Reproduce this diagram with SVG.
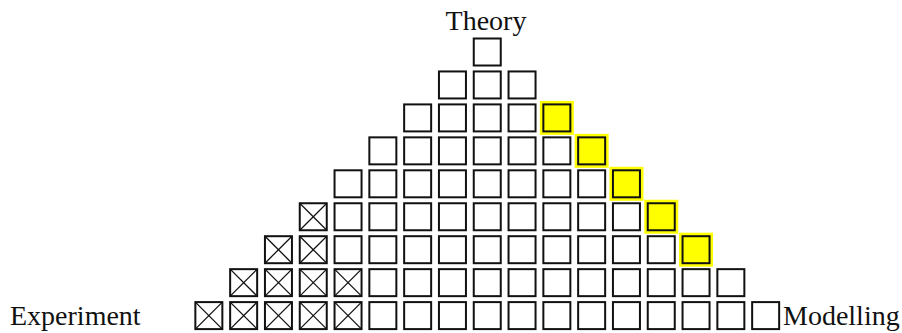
<svg xmlns="http://www.w3.org/2000/svg" xmlns:xlink="http://www.w3.org/1999/xlink" width="902" height="333" viewBox="0 0 902 333">
<style>
.sq{fill:#fff;stroke:#111;stroke-width:2}
.hl{fill:#ffff00;stroke:#111;stroke-width:2}
.glow{fill:#ffff00}
.cr{stroke:#111;stroke-width:1.3}
.lbl{font-family:"Liberation Serif","Times New Roman",serif;font-size:28px;fill:#111}
</style>
<defs>
<rect id="sq" class="sq" width="27" height="27"/>
<g id="xs"><rect class="sq" width="27" height="27"/><line class="cr" x1="0" y1="0" x2="27" y2="27"/><line class="cr" x1="27" y1="0" x2="0" y2="27"/></g>
<g id="ys"><rect class="glow" x="-3.5" y="-3.5" width="34" height="34"/><rect class="hl" width="27" height="27"/></g>
</defs>
<g id="labels">
<text class="lbl" x="486" y="30" text-anchor="middle">Theory</text>
<text class="lbl" x="10" y="325">Experiment</text>
<text class="lbl" x="783" y="325">Modelling</text>
</g>
<g id="row0" transform="translate(0,38.5)">
<use href="#sq" x="473.75"/>
</g>
<g id="row1" transform="translate(0,71.45)">
<use href="#sq" x="438.95"/><use href="#sq" x="473.75"/><use href="#sq" x="508.55"/>
</g>
<g id="row2" transform="translate(0,104.4)">
<use href="#sq" x="404.15"/><use href="#sq" x="438.95"/><use href="#sq" x="473.75"/><use href="#sq" x="508.55"/><use href="#ys" x="543.35"/>
</g>
<g id="row3" transform="translate(0,137.35)">
<use href="#sq" x="369.35"/><use href="#sq" x="404.15"/><use href="#sq" x="438.95"/><use href="#sq" x="473.75"/><use href="#sq" x="508.55"/><use href="#sq" x="543.35"/><use href="#ys" x="578.15"/>
</g>
<g id="row4" transform="translate(0,170.3)">
<use href="#sq" x="334.55"/><use href="#sq" x="369.35"/><use href="#sq" x="404.15"/><use href="#sq" x="438.95"/><use href="#sq" x="473.75"/><use href="#sq" x="508.55"/><use href="#sq" x="543.35"/><use href="#sq" x="578.15"/><use href="#ys" x="612.95"/>
</g>
<g id="row5" transform="translate(0,203.25)">
<use href="#xs" x="299.75"/><use href="#sq" x="334.55"/><use href="#sq" x="369.35"/><use href="#sq" x="404.15"/><use href="#sq" x="438.95"/><use href="#sq" x="473.75"/><use href="#sq" x="508.55"/><use href="#sq" x="543.35"/><use href="#sq" x="578.15"/><use href="#sq" x="612.95"/><use href="#ys" x="647.75"/>
</g>
<g id="row6" transform="translate(0,236.2)">
<use href="#xs" x="264.95"/><use href="#xs" x="299.75"/><use href="#sq" x="334.55"/><use href="#sq" x="369.35"/><use href="#sq" x="404.15"/><use href="#sq" x="438.95"/><use href="#sq" x="473.75"/><use href="#sq" x="508.55"/><use href="#sq" x="543.35"/><use href="#sq" x="578.15"/><use href="#sq" x="612.95"/><use href="#sq" x="647.75"/><use href="#ys" x="682.55"/>
</g>
<g id="row7" transform="translate(0,269.15)">
<use href="#xs" x="230.15"/><use href="#xs" x="264.95"/><use href="#xs" x="299.75"/><use href="#xs" x="334.55"/><use href="#sq" x="369.35"/><use href="#sq" x="404.15"/><use href="#sq" x="438.95"/><use href="#sq" x="473.75"/><use href="#sq" x="508.55"/><use href="#sq" x="543.35"/><use href="#sq" x="578.15"/><use href="#sq" x="612.95"/><use href="#sq" x="647.75"/><use href="#sq" x="682.55"/><use href="#sq" x="717.35"/>
</g>
<g id="row8" transform="translate(0,302.1)">
<use href="#xs" x="195.35"/><use href="#xs" x="230.15"/><use href="#xs" x="264.95"/><use href="#xs" x="299.75"/><use href="#xs" x="334.55"/><use href="#sq" x="369.35"/><use href="#sq" x="404.15"/><use href="#sq" x="438.95"/><use href="#sq" x="473.75"/><use href="#sq" x="508.55"/><use href="#sq" x="543.35"/><use href="#sq" x="578.15"/><use href="#sq" x="612.95"/><use href="#sq" x="647.75"/><use href="#sq" x="682.55"/><use href="#sq" x="717.35"/><use href="#sq" x="752.15"/>
</g>
<g id="connectors"/>
</svg>
